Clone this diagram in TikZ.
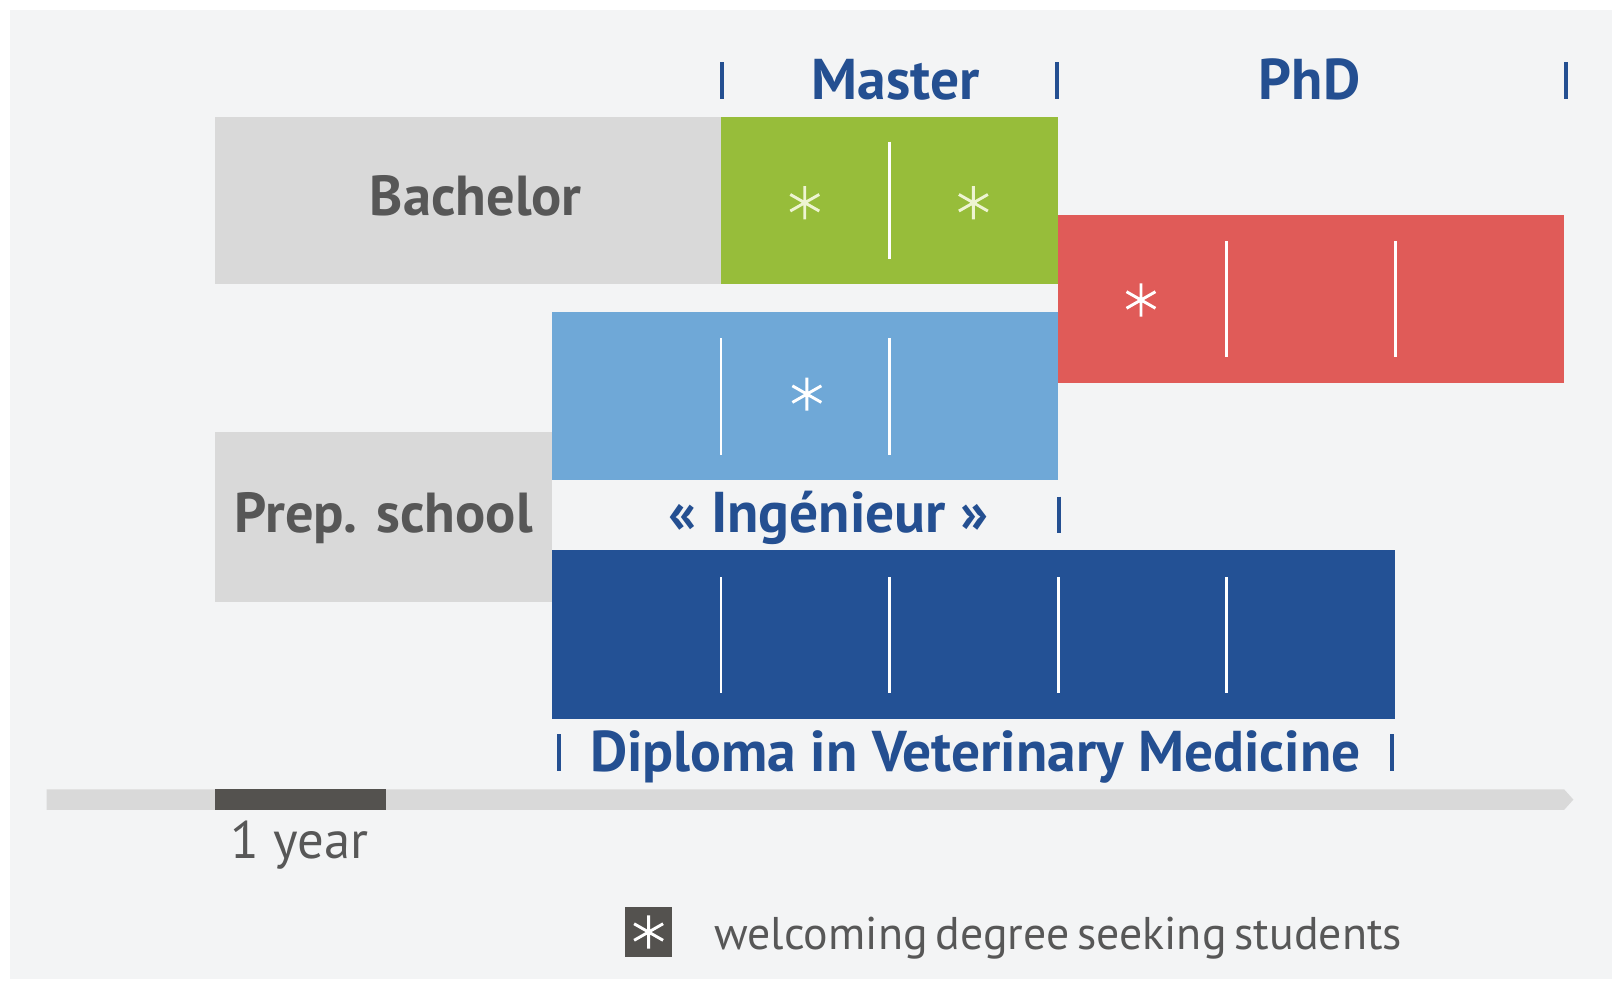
\documentclass[tikz,border=0pt]{standalone}
\usepackage{fontspec}
\setmainfont{PT Sans}
\newfontfamily\legendfont{PT Sans}[WordSpace=0.65]
\definecolor{boxgrey}{HTML}{D9D9D9}
\definecolor{textgrey}{HTML}{575757}
\definecolor{mastergreen}{HTML}{97BD3A}
\definecolor{phdred}{HTML}{E05B58}
\definecolor{ingblue}{HTML}{6FA8D7}
\definecolor{dvmblue}{HTML}{235195}
\definecolor{titleblue}{HTML}{244F91}
\definecolor{yeargrey}{HTML}{54524F}
\definecolor{backgrey}{HTML}{F3F4F5}
\definecolor{palegreen}{HTML}{EEF4D2}

\begin{document}
\begin{tikzpicture}[x=0.01cm, y=-0.01cm]
\newcommand\yearw{163}
\newcommand\xo{208}
\tikzset{
  title/.style={font=\fontsize{15.8pt}{18pt}\selectfont\bfseries, text=titleblue, inner sep=0, anchor=base},
  boxtext/.style={font=\fontsize{15.5pt}{18pt}\selectfont\bfseries, text=textgrey, inner sep=0, anchor=base},
  plain/.style={font=\legendfont\fontsize{12.6pt}{16pt}\selectfont, text=textgrey, inner sep=0, anchor=base west},
  bar/.style={line width=1.1pt, titleblue},
  divider/.style={line width=0.8pt, white},
  asterisk/.pic={\draw[line width=0.8pt, pic actions] (0,-16) -- (0,16) (-14,-8) -- (14,8) (-14,8) -- (14,-8);}
}
\useasboundingbox (0,0) rectangle (1568,955);
\fill[white] (0,0) rectangle (1568,955);
\fill[backgrey] (10,10) rectangle (1558,946);

% header
\node (master) at (866,96) [title] {Master};
\node (phd) at (1266,96) [title] {PhD};
\foreach \x in {698,1022,1514} {
    \draw[bar] (\x,60) -- (\x,96);
}

% bachelor + master
\fill[boxgrey] (\xo,113) rectangle (\xo+3*\yearw,275);
\node (bachelor) at (460,208) [boxtext] {Bachelor};
\fill[mastergreen] (\xo+3*\yearw,113) rectangle (\xo+5*\yearw,275);
\draw[divider] (\xo+4*\yearw,137) -- (\xo+4*\yearw,250);
\pic[palegreen] at (778,196) {asterisk};
\pic[palegreen] at (941,196) {asterisk};

% phd
\fill[phdred] (\xo+5*\yearw,208) rectangle (\xo+8*\yearw,370);
\foreach \i in {6,7} {
    \draw[divider] (\xo+\i*\yearw,233) -- (\xo+\i*\yearw,345);
}
\pic[white] at (1103,290) {asterisk};

% ingenieur
\fill[ingblue] (\xo+2*\yearw,302) rectangle (\xo+5*\yearw,464);
\foreach \i in {3,4} {
    \draw[divider] (\xo+\i*\yearw,327) -- (\xo+\i*\yearw,440);
}
\pic[white] at (780,381) {asterisk};
\node (ing) at (801,515) [title] {« Ingénieur »};
\draw[bar] (1024,480) -- (1024,515);

% prep school
\fill[boxgrey] (\xo,418) rectangle (\xo+2*\yearw,582);
\node (prep) at (371,515) [boxtext] {Prep. school};

% veterinary diploma
\fill[dvmblue] (\xo+2*\yearw,532) rectangle (\xo+7*\yearw,695);
\foreach \i in {3,...,6} {
    \draw[divider] (\xo+\i*\yearw,558) -- (\xo+\i*\yearw,670);
}
\node (dvm) at (943,746) [title] {Diploma in Veterinary Medicine};
\draw[bar] (540,710) -- (540,745);
\draw[bar] (1346,710) -- (1346,745);

% time line
\fill[boxgrey] (45,763) -- (1512,763) -- (1521,773) -- (1512,783) -- (45,783) -- cycle;
\fill[yeargrey] (\xo,763) rectangle (\xo+\yearw+2,783);
\node (year) at (222,830) [plain, font=\fontsize{14.5pt}{16pt}\selectfont] {1 year};

% legend
\fill[yeargrey] (604,877) rectangle (650,925);
\pic[white] at (627,901) {asterisk};
\node (legend) at (690,918) [plain] {welcoming degree seeking students};

\end{tikzpicture}
\end{document}
